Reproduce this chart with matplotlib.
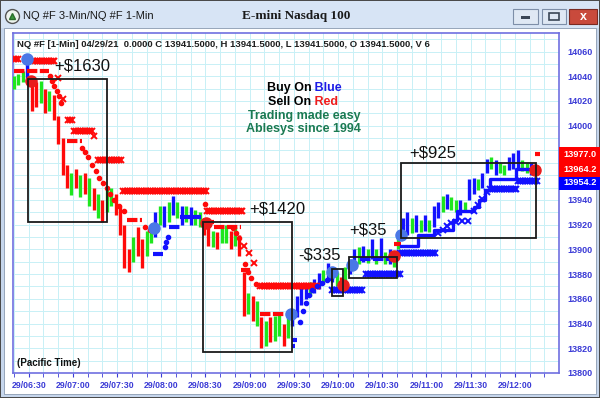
import numpy as np
import matplotlib
matplotlib.use('Agg')
import matplotlib.pyplot as plt
from matplotlib.patches import Rectangle
from matplotlib.lines import Line2D
from matplotlib.transforms import blended_transform_factory

plt.rcParams['font.family'] = ['Liberation Sans', 'DejaVu Sans']

# ---- data (x = minutes after 06:30 on 29/04) ----
bar_times = np.arange(-10, 345, 3)
bar_low = [14030, 14033, 14035, 14036, 14012, 14015, 14018, 14010, 14012, 14005,
           13985, 13960, 13950, 13944, 13950, 13942, 13945, 13935, 13932, 13925,
           13922, 13930, 13935, 13928, 13912, 13885, 13882, 13890, 13895, 13885,
           13895, 13905, 13910, 13920, 13918, 13922, 13928, 13925, 13920, 13922,
           13920, 13920, 13918, 13912, 13903, 13902, 13900, 13905, 13905, 13900,
           13903, 13895, 13846, 13848, 13842, 13838, 13820, 13822, 13825, 13826,
           13830, 13822, 13828, 13838, 13845, 13855, 13860, 13862, 13865, 13868,
           13872, 13876, 13874, 13870, 13866, 13874, 13880, 13885, 13888, 13890,
           13889, 13892, 13888, 13892, 13888, 13888, 13886, 13900, 13908, 13912,
           13913, 13914, 13914, 13915, 13914, 13918, 13925, 13930, 13933, 13932,
           13930, 13928, 13930, 13940, 13945, 13948, 13950, 13962, 13965, 13960,
           13962, 13960, 13964, 13965, 13966, 13963, 13962, 13960, 13960]
bar_high = [14040, 14042, 14044, 14058, 14038, 14035, 14036, 14030, 14028, 14025,
            14008, 13990, 13968, 13962, 13965, 13960, 13962, 13958, 13950, 13945,
            13940, 13948, 13950, 13945, 13935, 13920, 13900, 13910, 13918, 13908,
            13915, 13920, 13930, 13935, 13935, 13938, 13943, 13938, 13935, 13935,
            13934, 13932, 13930, 13925, 13918, 13915, 13914, 13918, 13920, 13915,
            13918, 13912, 13882, 13865, 13862, 13858, 13845, 13842, 13845, 13846,
            13848, 13840, 13845, 13852, 13862, 13870, 13872, 13874, 13876, 13881,
            13883, 13889, 13886, 13882, 13878, 13886, 13892, 13900, 13902, 13903,
            13900, 13908, 13900, 13909, 13898, 13900, 13897, 13912, 13925, 13930,
            13925, 13928, 13924, 13928, 13924, 13935, 13938, 13943, 13945, 13942,
            13940, 13940, 13938, 13957, 13958, 13957, 13962, 13973, 13975, 13972,
            13970, 13968, 13975, 13978, 13980, 13972, 13970, 13970, 13968]
bar_color = ('GGGB' 'RRGRGR' 'RRR' 'GRGRGRGR' 'GGRR' 'RRGRRGG' 'BGBGBGBGBGG'
             'RRGRGGRGR' 'RGRGRGRGGRG' 'BBBBGBBGBBG' 'RGBBGBGBGBGBG'
             'GBBGBGBGBBGBGGBG' 'BBGBBGBGGBBBGGBR')

# trailing stop x-chains: start, end, level
red_x_t0 = [-10, 3, 20, 23, 27, 31, 44, 47, 64, 121, 146, 149.5, 153, 157]
red_x_t1 = [-8, 17, 20, 23, 30, 43, 44, 63, 120, 145, 146, 149.5, 153, 196]
red_x_lv = [14054, 14052, 14039, 14022, 14005, 13996, 13992, 13972, 13947, 13931,
            13903, 13897, 13889, 13870]
blue_x_t0 = [206, 229, 252, 278, 281, 284, 287, 290, 294, 298, 302, 305, 308, 311, 313, 332]
blue_x_t1 = [227, 252, 276, 278, 281, 284, 287, 290, 294, 298, 302, 305, 308, 311, 331, 345]
blue_x_lv = [13867, 13880, 13897, 13913, 13916, 13919, 13921, 13922, 13923, 13923,
             13931, 13936, 13941, 13946, 13949, 13955]

# stop dots
red_dot_t = [14.5, 16, 17.5, 19, 20.5, 22, 36, 38, 40.5, 43, 45.5, 48, 50.5, 53, 55.5,
             58, 61, 65, 79, 82, 120, 139, 141, 143, 147, 149, 151, 154]
red_dot_v = [14040, 14036, 14032, 14028, 14024, 14018, 13982, 13979, 13975, 13968, 13963,
             13958, 13954, 13950, 13945, 13940, 13935, 13931, 13918, 13916, 13937, 13917,
             13913, 13909, 13888, 13882, 13877, 13872]
blue_dot_t = [92.5, 93.5, 94.5, 184, 186, 188, 190, 192.5, 195.5, 199, 202.5, 205]
blue_dot_v = [13902, 13906, 13910, 13841, 13850, 13857, 13863, 13867, 13870, 13873,
              13875, 13877]

# stop dashes: start, end, level
red_dash_t0 = [-10, 26, 66.5, 120, 126, 144, 157, 248, 344]
red_dash_t1 = [14, 36, 77, 126, 144, 150, 174, 253, 347]
red_dash_lv = [14044, 13988, 13924, 13922, 13918, 13883, 13847.6, 13904, 13977.5]
blue_dash_t0 = [84.5, 95, 103, 178.5, 179, 225]
blue_dash_t1 = [91, 103, 117, 181, 182, 248]
blue_dash_lv = [13896, 13918, 13926, 13822, 13827, 13892]

blue_line_t = [253, 264, 275, 288, 291, 302, 306, 310, 313, 331, 343]
blue_line_v = [13903, 13912, 13916, 13924, 13931, 13934, 13940, 13948, 13957, 13965, 13965]

# entry / exit signals
blue_sig_t = [-1, 85, 178, 206, 219.5, 252.5]
blue_sig_v = [14054, 13917, 13847.6, 13882, 13887, 13912]
red_sig_t = [1.3, 120.5, 213.5, 248, 344]
red_sig_v = [14036, 13921, 13871, 13894.7, 13964]

# trade boxes
box_t0 = [-0.7, 118.5, 206, 217.6, 252.5]
box_t1 = [53.2, 178.6, 213.6, 250, 344.5]
box_lo = [13922, 13817, 13862, 13877, 13909]
box_hi = [14038, 13922, 13884, 13893.5, 13969.5]
box_pnl = ['+$1630', '+$1420', '-$335', '+$35', '+$925']

tick_labels = ['29/06:30', '29/07:00', '29/07:30', '29/08:00', '29/08:30', '29/09:00',
               '29/09:30', '29/10:00', '29/10:30', '29/11:00', '29/11:30', '29/12:00']
price_ticks = [13800, 13820, 13840, 13860, 13880, 13900, 13920, 13940, 14000, 14020,
               14040, 14060]
last_prices = ['13977.0', '13964.2', '13954.2']
last_values = [13977.0, 13964.2, 13954.2]

RED = '#ff0a0a'
BLUE = '#1212ff'
GREEN = '#1ee61e'
AXBLUE = '#3b3bd6'
cmap = {'G': GREEN, 'R': RED, 'B': BLUE}


def fp(x, y):
    # pixel position -> figure fraction
    return x / 600, 1 - y / 398


fig = plt.figure(figsize=(6, 3.98), dpi=100)
fig.patch.set_facecolor('#4a4a4a')

# window chrome
fig.add_artist(Rectangle(fp(1, 397), 598 / 600, 396 / 398, transform=fig.transFigure,
                         fc='#c6d6ec', ec='none', zorder=-5))
fig.add_artist(Rectangle(fp(1, 28), 598 / 600, 27 / 398, transform=fig.transFigure,
                         fc='#d7e4f5', ec='none', zorder=-4))
fig.add_artist(Rectangle(fp(4, 394), 592 / 600, 366 / 398, transform=fig.transFigure,
                         fc='white', ec='#8a9ab0', lw=0.6, zorder=-3))
fig.add_artist(Line2D([fp(12, 16)[0]], [fp(12, 16)[1]], marker='o', ms=10, mfc='#eef4ee',
                      mec='#555555', mew=1.0, transform=fig.transFigure))
fig.add_artist(Line2D([fp(12, 16)[0]], [fp(12, 16)[1]], marker='^', ms=5, mfc='#3c9a3c',
                      mec='#2c6e2c', transform=fig.transFigure))
fig.text(*fp(23, 16), 'NQ #F 3-Min/NQ #F 1-Min', fontsize=8, va='center', color='#1a1a1a')
fig.text(*fp(296, 16), 'E-mini Nasdaq 100', family=['Liberation Serif', 'DejaVu Serif'],
         fontweight='bold', fontsize=9.5, ha='center', va='center', color='#1a1a1a')
for x0, w in [(513, 25), (542, 24)]:
    fig.add_artist(Rectangle(fp(x0, 24), w / 600, 15 / 398, transform=fig.transFigure,
                             fc='#dfe8f4', ec='#7d8ea8', lw=0.8))
fig.add_artist(Rectangle(fp(521, 19), 9 / 600, 3 / 398, transform=fig.transFigure,
                         fc='#3a4656', ec='none'))
fig.add_artist(Rectangle(fp(549, 20), 10 / 600, 7 / 398, transform=fig.transFigure,
                         fc='none', ec='#3a4656', lw=1.2))
fig.add_artist(Rectangle(fp(569, 24), 28 / 600, 15 / 398, transform=fig.transFigure,
                         fc='#c94a3c', ec='#7a2a22', lw=0.8))
fig.text(*fp(583, 16.5), 'x', color='white', fontsize=9, fontweight='bold',
         ha='center', va='center')

# main chart
ax = fig.add_axes([13.4 / 600, 25 / 398, 545.3 / 600, 340 / 398])
ax.set_xlim(-10.4, 359.8)
ax.set_ylim(13800, 14075)
ax.set_axisbelow(True)
ax.set_xticks(np.arange(0, 331, 30))
ax.set_xticklabels(tick_labels)
ax.set_xticks(np.arange(-10, 360, 10), minor=True)
# 13960 / 13980 sit under the last-price tags, so they are left out
ax.set_yticks(price_ticks)
ax.set_yticks(np.arange(13800, 14075, 10), minor=True)
ax.yaxis.tick_right()
ax.tick_params(axis='y', which='both', length=0, pad=6, labelsize=6.5,
               labelcolor=AXBLUE)
ax.tick_params(axis='x', which='both', length=3, color=AXBLUE, pad=3, labelsize=6.3,
               labelcolor=AXBLUE)
for lab in ax.get_xticklabels() + ax.get_yticklabels():
    lab.set_fontweight('bold')
ax.grid(True, which='both', color='#c8f0f6', lw=0.7)
for sp in ax.spines.values():
    sp.set_color('#6f6fe0')
    sp.set_linewidth(1.2)

# price bars
ax.vlines(bar_times, bar_low, bar_high, colors=[cmap[c] for c in bar_color], lw=2.4,
          zorder=3)

# trailing stops
for t0, t1, v in zip(red_x_t0, red_x_t1, red_x_lv):
    ts = np.arange(t0, t1 + 0.5, 1.2)
    ax.plot(ts, [v] * len(ts), ls='none', marker='x', ms=4.5, mew=1.4, color=RED, zorder=4)
for t0, t1, v in zip(blue_x_t0, blue_x_t1, blue_x_lv):
    ts = np.arange(t0, t1 + 0.5, 1.2)
    ax.plot(ts, [v] * len(ts), ls='none', marker='x', ms=4.5, mew=1.4, color=BLUE, zorder=4)
ax.plot(red_dot_t, red_dot_v, ls='none', marker='o', ms=3, color=RED, zorder=4)
ax.plot(blue_dot_t, blue_dot_v, ls='none', marker='o', ms=3, color=BLUE, zorder=4)
for t0, t1, v in zip(red_dash_t0, red_dash_t1, red_dash_lv):
    ax.plot([t0, t1], [v, v], color=RED, lw=3, ls=(0, (2.5, 0.6)), zorder=4)
for t0, t1, v in zip(blue_dash_t0, blue_dash_t1, blue_dash_lv):
    ax.plot([t0, t1], [v, v], color=BLUE, lw=3, ls=(0, (2.5, 0.6)), zorder=4)
ax.plot(blue_line_t, blue_line_v, color=BLUE, lw=2.4, drawstyle='steps-post', zorder=4)

ax.plot(blue_sig_t, blue_sig_v, ls='none', marker='o', ms=8, color='#4a78e6', zorder=5)
ax.plot(red_sig_t, red_sig_v, ls='none', marker='o', ms=8, color='#e81c1c', zorder=5)

# trade boxes with results
for t0, t1, lo, hi in zip(box_t0, box_t1, box_lo, box_hi):
    ax.add_patch(Rectangle((t0, lo), t1 - t0, hi - lo, fill=False, ec='#1a1a1a', lw=1.3,
                           zorder=6))
for txt, (x, y) in zip(box_pnl, [(17, 14048), (149.4, 13933), (183, 13895.3),
                                 (217.7, 13915.7), (258.4, 13978.2)]):
    ax.text(x, y, txt, fontsize=12, va='center', ha='left', color='#111111', zorder=7)

# header and notes
ax.text(0.0066, 0.967, 'NQ #F [1-Min] 04/29/21  0.0000 C 13941.5000, H 13941.5000, '
        'L 13941.5000, O 13941.5000, V 6', transform=ax.transAxes, fontsize=6.8,
        fontweight='bold', color='#1e1e1e', va='center')
ax.text(0.0066, 0.03, '(Pacific Time)', transform=ax.transAxes, fontsize=7,
        fontweight='bold', color='#111111', va='center')
t1 = ax.text(0.4645, 0.837, 'Buy On', transform=ax.transAxes, fontsize=9,
             fontweight='bold', color='black', va='center')
ax.annotate(' Blue', xy=(1, 0), xycoords=t1, va='bottom', ha='left', fontsize=9,
            fontweight='bold', color='#1c1ce6')
t2 = ax.text(0.467, 0.798, 'Sell On', transform=ax.transAxes, fontsize=9,
             fontweight='bold', color='black', va='center')
ax.annotate(' Red', xy=(1, 0), xycoords=t2, va='bottom', ha='left', fontsize=9,
            fontweight='bold', color='#ee1c1c')
ax.text(0.5326, 0.757, 'Trading made easy', transform=ax.transAxes, fontsize=9,
        fontweight='bold', color='#1b7a52', ha='center', va='center')
ax.text(0.5326, 0.718, 'Ablesys since 1994', transform=ax.transAxes, fontsize=9,
        fontweight='bold', color='#1b7a52', ha='center', va='center')

# last price tags on the right scale
trans = blended_transform_factory(ax.transAxes, ax.transData)
ax.add_patch(Rectangle((1.0, 13958.6), 0.08, 24.2, transform=trans, fc='#ff0000',
                       ec='none', clip_on=False, zorder=10))
ax.add_patch(Rectangle((1.0, 13948.2), 0.08, 10.4, transform=trans, fc='#0000ff',
                       ec='none', clip_on=False, zorder=10))
for lbl, v in zip(last_prices, last_values):
    ax.text(1.008, v, lbl, transform=trans, color='white', fontsize=6.6,
            fontweight='bold', va='center', clip_on=False, zorder=11)

fig.savefig('out.png', dpi=100)
